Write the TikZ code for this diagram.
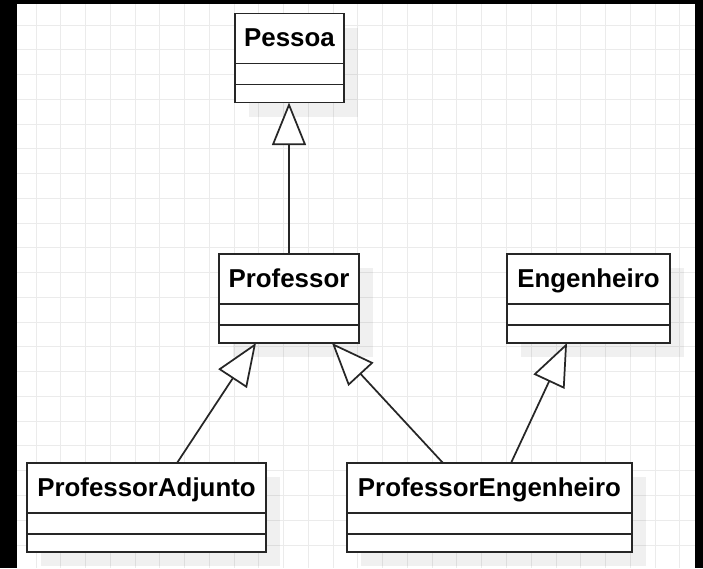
\documentclass[tikz,border=0pt]{standalone}
\usepackage{fontspec}
\setmainfont{Liberation Sans}
\usepackage{tikz}
\usetikzlibrary{calc,arrows.meta,shadows}
\tikzset{
	classbox/.style={draw=black!85, line width=1.4pt, fill=white, inner sep=0pt, outer sep=0pt, minimum height=66.75pt, drop shadow={shadow xshift=10.5pt, shadow yshift=-10.5pt, fill=black, opacity=0.06}},
	classname/.style={anchor=base, inner sep=0pt, font=\bfseries\fontsize{19.4}{23}\selectfont},
	inherit/.style={black!85, line width=1.3pt, -{Triangle[length=32pt, width=25.5pt, fill=white]}},
	gridline/.style={black!8, line width=0.75pt}
}
\def\umlclass(#1)(#2,#3)(#4)#5{
	\node[classbox, minimum width=#4] (#1) at (#2,#3) {};
	\node[classname] (#1name) at ($(#1.north)+(0,33)$) {#5};
	\draw[black!85, line width=1.3pt] ($(#1.north west)+(0,50)$) -- ($(#1.north east)+(0,50)$);
	\draw[black!85, line width=1.3pt] ($(#1.north west)+(0,71)$) -- ($(#1.north east)+(0,71)$);
}
\begin{document}
\begin{tikzpicture}[x=0.75pt, y=-0.75pt]
			%%%%% START %%%%%
			\useasboundingbox (0,0) rectangle (703,568);
			
			\fill[black] (0,0) rectangle (703,568);
			\fill[white] (17,4) rectangle (695,568);
			
			\foreach \gx in {1,...,27}
				\draw[gridline] ({11.3+24.76*\gx},4) -- ({11.3+24.76*\gx},568);
			\foreach \gy in {1,...,22}
				\draw[gridline] (17,{0.3+24.76*\gy}) -- (695,{0.3+24.76*\gy});
			
			\umlclass(pessoa)(289.5,58)(81.75pt){Pessoa}
			
			\umlclass(professor)(289,298.5)(105pt){Professor}
			\umlclass(engenheiro)(588.5,298.5)(122.25pt){Engenheiro}
			
			\umlclass(profadjunto)(146.5,507.5)(179.25pt){ProfessorAdjunto}
			\umlclass(profengenheiro)(489.5,507.5)(213.75pt){ProfessorEngenheiro}
			
			\draw[inherit] (professor.north) -- (professor.north |- pessoa.south);
			\draw[inherit] ($(profadjunto.north)+(30.5,0)$) -- ($(professor.south)+(-33,0)$);
			\draw[inherit] ($(profengenheiro.north)+(-46.5,0)$) -- ($(professor.south)+(43,0)$);
			\draw[inherit] ($(profengenheiro.north)+(21.5,0)$) -- ($(engenheiro.south)+(-21.5,0)$);
			
			%%%%% END %%%%%
		\end{tikzpicture}
\end{document}
